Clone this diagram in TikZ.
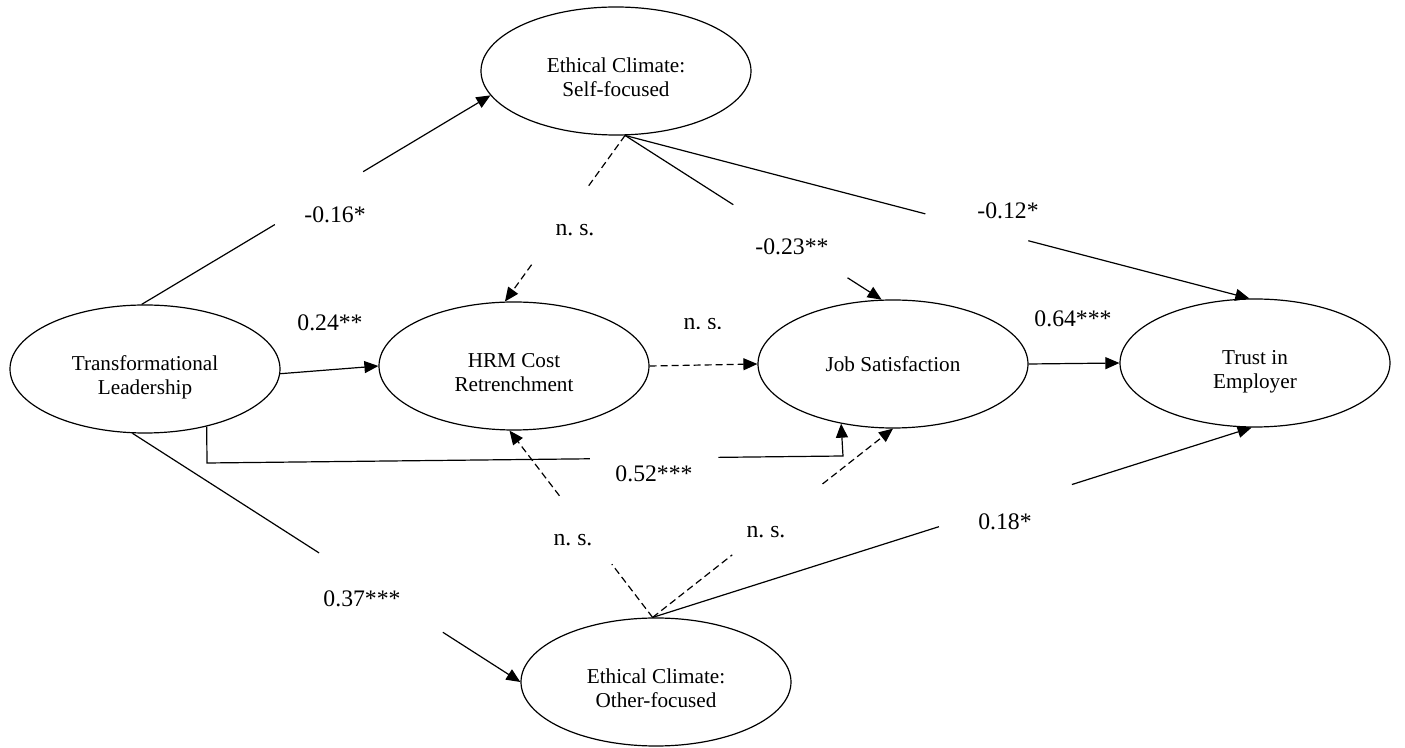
\documentclass[tikz,border=0pt]{standalone}
\usepackage{fontspec}
\setmainfont{Liberation Serif}
\usetikzlibrary{shapes.geometric,arrows.meta,calc}
\newcommand\twolines[2]{\raisebox{-4.6pt}[\height][\depth]{\begin{tabular}{@{}c@{}}#1\\#2\end{tabular}}}
\newcommand\gapedge[5]{%
  \draw[#1] (#2) -- ($(#2)!#4!(#3)$);
  \draw[#1,tip] ($(#2)!#5!(#3)$) -- (#3);}
\begin{document}
\begin{tikzpicture}[x=0.5pt,y=-0.5pt,
  var/.style={draw, ellipse, minimum width=135pt, minimum height=64pt, inner sep=0pt,
    line width=0.6pt, font=\fontsize{10.6}{12}\selectfont},
  lbl/.style={font=\fontsize{11.85}{14}\selectfont, inner sep=0pt},
  conn/.style={line width=0.6pt},
  dashconn/.style={line width=0.6pt, dash pattern=on 3.5pt off 2pt},
  tip/.style={-{Triangle[length=7pt,width=6pt]}}]
\useasboundingbox (0,0) rectangle (1405,748);

% variables
\node[var] (TL)  at (145,369)  {\twolines{Transformational}{Leadership}};
\node[var] (ECS) at (616,71)   {\twolines{Ethical Climate:}{Self-focused}};
\node[var] (HRM) at (514,366)  {\twolines{HRM Cost}{Retrenchment}};
\node[var] (JS)  at (893,364)  {Job Satisfaction};
\node[var] (TE)  at (1255,363) {\twolines{Trust in}{Employer}};
\node[var] (ECO) at (656,682)  {\twolines{Ethical Climate:}{Other-focused}};

% paths
\gapedge{conn}{TL.93.6}{ECS.191.6}{0.382}{0.635}
\draw[conn,tip] (TL.358.3) -- (HRM.180.9);
\gapedge{dashconn}{ECS.278}{HRM.98.9}{0.305}{0.778}
\gapedge{conn}{ECS.278}{JS.100.5}{0.422}{0.867}
\gapedge{conn}{ECS.278}{TE.95.4}{0.481}{0.646}
\draw[dashconn,tip] (HRM.0.8) -- (JS.180);
\draw[conn,tip] (JS.0) -- (TE.180);
\coordinate (k1) at (207,463);
\coordinate (k2) at (843,456);
\draw[conn] (TL.317.4) -- (k1) -- ($(k1)!0.602!(k2)$);
\draw[conn,tip] ($(k1)!0.804!(k2)$) -- (k2) -- (JS.229.7);
\gapedge{conn}{TL.259.7}{ECO.180.9}{0.481}{0.80}
\gapedge{dashconn}{ECO.93.5}{HRM.266.5}{0.285}{0.651}
\gapedge{dashconn}{ECO.93.5}{JS.270.9}{0.331}{0.707}
\gapedge{conn}{ECO.93.5}{TE.267.4}{0.478}{0.70}

% coefficients
\node[lbl] (l1)  at (335,215)  {-0.16*};
\node[lbl] (l2)  at (330,323)  {0.24**};
\node[lbl] (l3)  at (575,230)  {n.\ s.};
\node[lbl] (l4)  at (792,247)  {-0.23**};
\node[lbl] (l5)  at (1008,211) {-0.12*};
\begin{scope}
  \clip (650,300) rectangle (760,328.5);
  \node[lbl] (l6) at (703,324.5) {n.\ s.};
\end{scope}
\node[lbl] (l7)  at (1073,319) {0.64***};
\node[lbl] (l8)  at (654,474)  {0.52***};
\node[lbl] (l9)  at (573,540)  {n.\ s.};
\node[lbl] (l10) at (766,532)  {n.\ s.};
\node[lbl] (l11) at (1005,522) {0.18*};
\node[lbl] (l12) at (362,599)  {0.37***};
\end{tikzpicture}
\end{document}
